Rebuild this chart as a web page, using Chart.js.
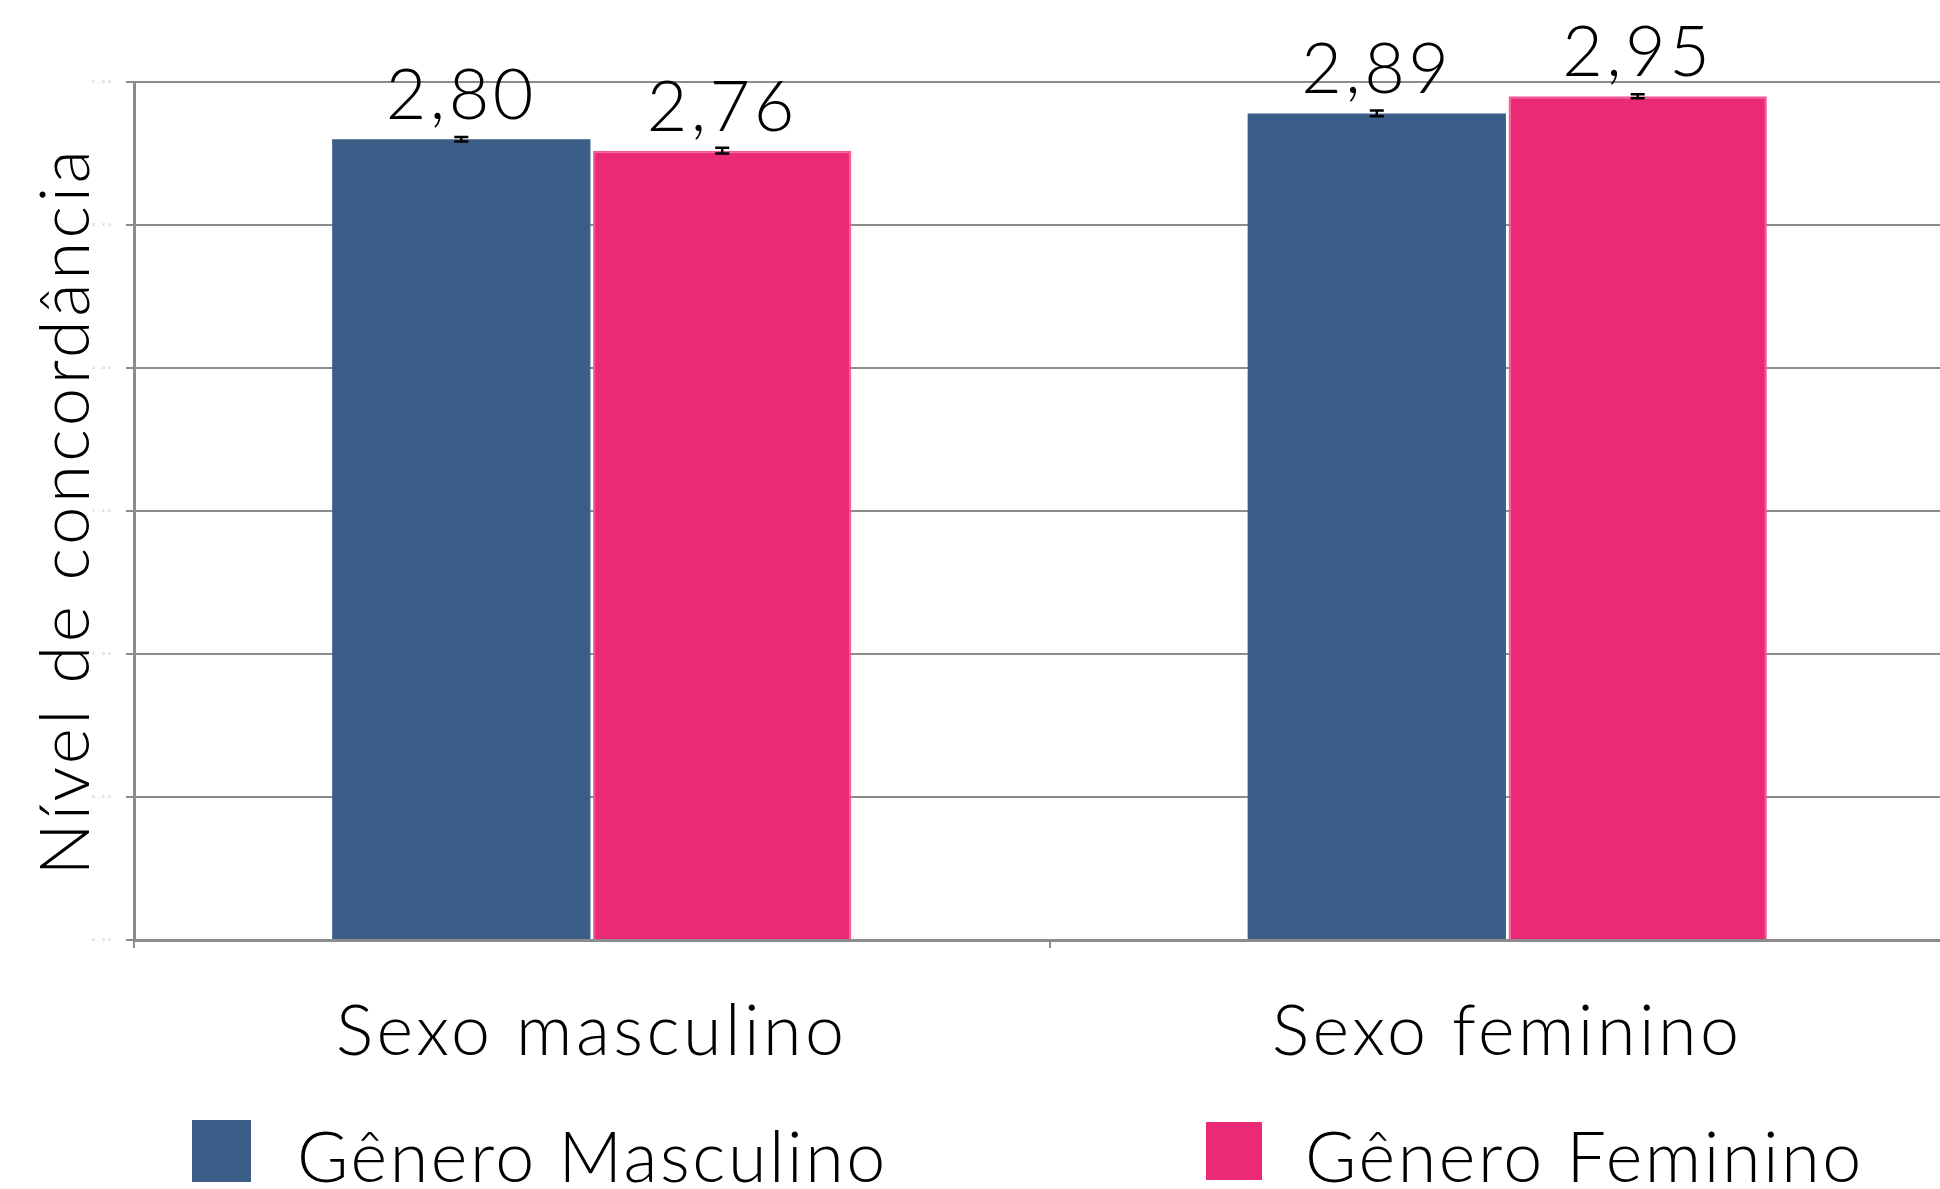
<!DOCTYPE html>
<html lang="pt">
<head>
<meta charset="utf-8">
<title>Nível de concordância</title>
<script src="https://cdn.jsdelivr.net/npm/chart.js@4.4.1/dist/chart.umd.min.js"></script>
<style>
  html, body { margin: 0; padding: 0; background: #fff; overflow: hidden; }
  #wrap { position: relative; width: 2010px; height: 1189px; }
</style>
</head>
<body>
<div id="wrap"><canvas id="chart" width="2010" height="1189"></canvas></div>
<script>
// ---- data ----
const categories = ["Sexo masculino", "Sexo feminino"];
const seriesNames = ["Gênero Masculino", "Gênero Feminino"];
const generoMasculino = [2.80, 2.89];
const generoFeminino = [2.76, 2.95];
const erroMasculino = [0.008, 0.01];
const erroFeminino = [0.01, 0.007];
const yTickLabels = ["0,00", "0,50", "1,00", "1,50", "2,00", "2,50", "3,00"];

const BLUE = "#3a5e88";
const PINK = "#eb2a76";
const GRID = "#8c8c8c";
const FONT = "Lato";
const SPACING = "3.5px"; // the original font is wider than Lato

// format 2.8 -> "2,80"
function fmt(v) {
  return v.toFixed(2).replace(".", ",");
}

/******** widen the letters a bit (layout + drawing) ********/
const spacingPlugin = {
  id: "letterSpacing",
  beforeLayout(chart) { chart.ctx.letterSpacing = SPACING; },
  beforeDraw(chart) { chart.ctx.letterSpacing = SPACING; }
};

/******** error bars drawn on top of the bars ********/
const errorBarsPlugin = {
  id: "errorBars",
  afterDatasetsDraw(chart) {
    const ctx = chart.ctx;
    const yScale = chart.scales.y;
    const errs = [erroMasculino, erroFeminino];
    ctx.save();
    ctx.strokeStyle = "#000";
    ctx.lineWidth = 2.5;
    chart.data.datasets.forEach((ds, di) => {
      chart.getDatasetMeta(di).data.forEach((bar, i) => {
        const v = ds.data[i];
        const e = errs[di][i];
        const yTop = yScale.getPixelForValue(v + e);
        const yBot = yScale.getPixelForValue(v - e);
        ctx.beginPath();
        ctx.moveTo(bar.x, yTop); ctx.lineTo(bar.x, yBot);
        ctx.moveTo(bar.x - 7, yTop); ctx.lineTo(bar.x + 7, yTop);
        ctx.moveTo(bar.x - 7, yBot); ctx.lineTo(bar.x + 7, yBot);
        ctx.stroke();
      });
    });
    ctx.restore();
  }
};

/******** value labels above each bar ********/
const valueLabelsPlugin = {
  id: "valueLabels",
  afterDatasetsDraw(chart) {
    const ctx = chart.ctx;
    ctx.save();
    ctx.fillStyle = "#000";
    ctx.font = "300 70px " + FONT;
    ctx.textAlign = "center";
    ctx.textBaseline = "alphabetic";
    chart.data.datasets.forEach((ds, di) => {
      chart.getDatasetMeta(di).data.forEach((bar, i) => {
        ctx.fillText(fmt(ds.data[i]), bar.x, bar.y - 20);
      });
    });
    ctx.restore();
  }
};

/******** legend row under the chart ********/
const legendPlugin = {
  id: "bottomLegend",
  afterDraw(chart) {
    const ctx = chart.ctx;
    const items = [
      { box: [192, 1120, 59, 62], textX: 297 },
      { box: [1206, 1122, 56, 58], textX: 1305 }
    ];
    ctx.save();
    ctx.font = "300 70px " + FONT;
    ctx.letterSpacing = "2.6px";
    ctx.textBaseline = "alphabetic";
    ctx.textAlign = "left";
    chart.data.datasets.forEach((ds, di) => {
      const it = items[di];
      ctx.fillStyle = ds.backgroundColor;
      ctx.fillRect(it.box[0], it.box[1], it.box[2], it.box[3]);
      ctx.fillStyle = "#000";
      ctx.fillText(ds.label, it.textX, 1182);
    });
    ctx.restore();
  }
};

new Chart(document.getElementById("chart"), {
  type: "bar",
  data: {
    labels: categories,
    datasets: [
      {
        label: seriesNames[0],
        data: generoMasculino,
        backgroundColor: BLUE,
        borderWidth: 0
      },
      {
        label: seriesNames[1],
        data: generoFeminino,
        backgroundColor: PINK,
        borderColor: "#f25c95",
        borderWidth: 2
      }
    ]
  },
  options: {
    responsive: false,
    animation: false,
    devicePixelRatio: 1,
    categoryPercentage: 0.57,
    barPercentage: 0.99,
    layout: { padding: { top: 82, right: 45, bottom: 0, left: 0 } },
    plugins: {
      legend: { display: false },
      tooltip: { enabled: false }
    },
    scales: {
      x: {
        grid: {
          display: true,
          drawOnChartArea: false,
          drawTicks: true,
          tickLength: 8,
          color: GRID,
          lineWidth: 2
        },
        border: { display: true, color: GRID, width: 3 },
        ticks: {
          color: "#000",
          padding: 42,
          font: { family: FONT, size: 70, weight: 300 }
        },
        afterFit(scale) { scale.height = 249; }
      },
      y: {
        min: 0,
        max: 3,
        ticks: {
          stepSize: 0.5,
          padding: 12,
          color: "#aaa",
          font: { family: FONT, size: 4 },
          callback: (v, i) => yTickLabels[i]
        },
        grid: { color: GRID, lineWidth: 2, tickLength: 8 },
        border: { display: true, color: GRID, width: 3 },
        title: {
          display: true,
          text: "Nível de concordância",
          color: "#000",
          padding: { top: 25, bottom: 0 },
          font: { family: FONT, size: 69, weight: 300 }
        },
        afterFit(scale) { scale.width = 134; }
      }
    }
  },
  plugins: [spacingPlugin, errorBarsPlugin, valueLabelsPlugin, legendPlugin]
});
</script>
</body>
</html>
